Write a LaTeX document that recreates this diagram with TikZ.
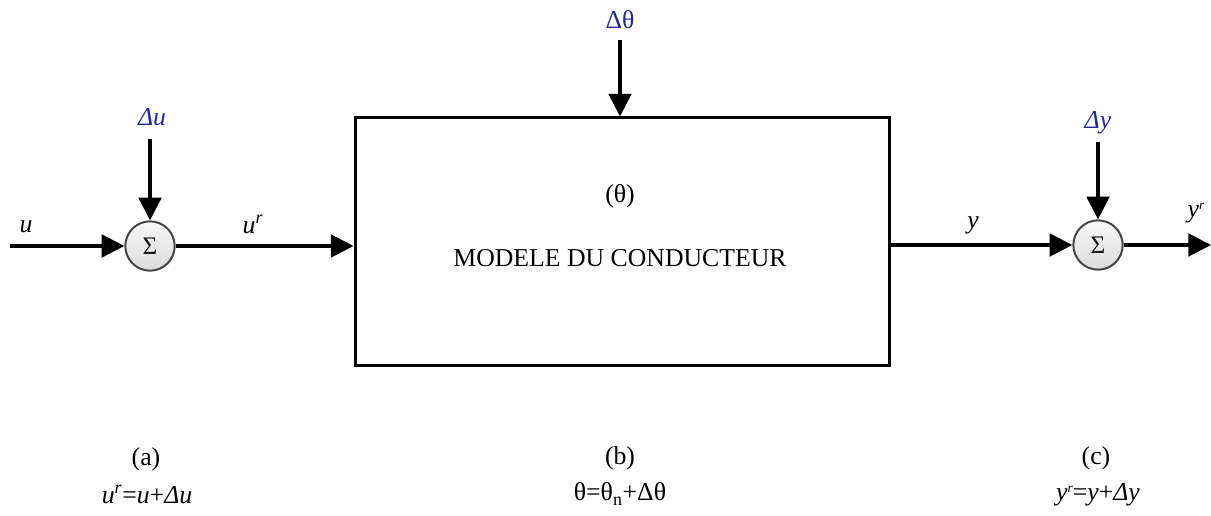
\documentclass[tikz,border=0pt]{standalone}
\usepackage{fontspec}
\setmainfont{Liberation Serif}
\usetikzlibrary{arrows.meta,shadows}
\definecolor{lblue}{RGB}{40,40,155}
\tikzset{
  txt/.style={font=\fontsize{19.3}{23}\selectfont, inner sep=0pt},
  btxt/.style={txt, text=lblue},
  arr/.style={line width=2.3pt, -{Triangle[length=17pt,width=17pt]}},
  sumnode/.style={circle, draw=gray!55!black, line width=1.5pt, top color=gray!6, bottom color=gray!28,
     minimum size=37pt, inner sep=0pt, text=gray!20!black, font=\fontsize{19}{19}\selectfont,
     drop shadow={shadow xshift=0.6pt, shadow yshift=-0.8pt, opacity=0.25}},
  blockbox/.style={draw, line width=2.25pt, minimum width=400.5pt, minimum height=186pt, inner sep=0pt}
}
\newcommand{\smr}{{\fontsize{10}{10}\selectfont\textit{r}}}
\begin{document}
\begin{tikzpicture}[x=0.75pt,y=-0.75pt]
\useasboundingbox (0,0) rectangle (1211,516);
% block
\node[blockbox] (box) at (622,242) {};
\node[txt] (theta) at (620,196) {(θ)};
\node[txt] (model) at (620,258) {MODELE DU CONDUCTEUR};
% summing junctions
\node[sumnode] (s1) at (150,246) {Σ};
\node[sumnode] (s2) at (1098,245) {Σ};
% labels
\node[txt] (lu) at (26,227) {\textit{u}};
\node[txt] (lur) at (253,224) {\textit{u}\textsuperscript{\textit{r}}};
\node[btxt] (ldu) at (152,117) {\textit{Δu}};
\node[btxt] (ldth) at (620,20) {Δθ};
\node[txt] (ly) at (973,225) {\textit{y}};
\node[btxt] (ldy) at (1098,123) {\textit{Δy}};
\node[txt] (lyr) at (1196,213) {\textit{y}\raisebox{6pt}{\smr}};
% start / end coordinates
\coordinate (uin) at (10,246);
\coordinate (du0) at (150,139);
\coordinate (dth0) at (620,40);
\coordinate (dy0) at (1098,142);
\coordinate (yout) at (1211,245);
% connectors
\draw[arr] (uin) -- (s1.west);
\draw[arr] (du0) -- (s1.north);
\draw[arr] (s1.east) -- (s1.east -| box.west);
\draw[arr] (dth0) -- (dth0 |- box.north);
\draw[arr] (box.east |- s2.west) -- (s2.west);
\draw[arr] (dy0) -- (s2.north);
\draw[arr] (s2.east) -- (yout);
% bottom captions
\node[txt] (ca) at (146,459) {(a)};
\node[txt] (ea) at (147,494) {\textit{u}\textsuperscript{\textit{r}}=\textit{u}+\textit{Δu}};
\node[txt] (cb) at (620,458) {(b)};
\node[txt] (eb) at (620,494) {θ=θ\textsubscript{n}+Δθ};
\node[txt] (cc) at (1096,458) {(c)};
\node[txt] (ec) at (1098,495) {\textit{y}\raisebox{6pt}{\smr}=\textit{y}+\textit{Δy}};
\end{tikzpicture}
\end{document}
